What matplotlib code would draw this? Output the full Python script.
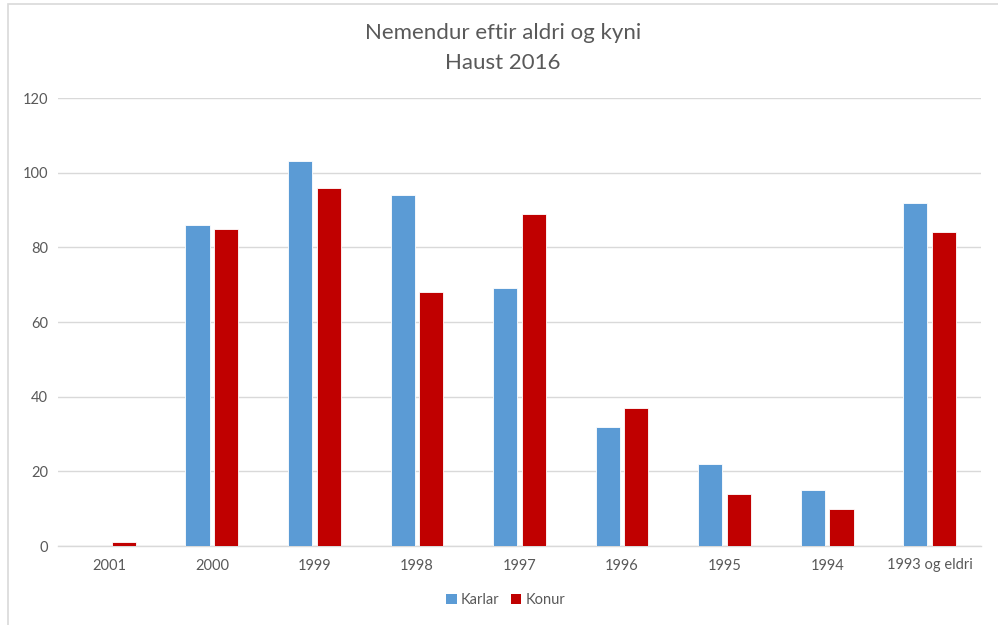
import matplotlib
matplotlib.use("Agg")
import matplotlib.pyplot as plt
from matplotlib.patches import Rectangle, Patch
import numpy as np

categories = ["2001", "2000", "1999", "1998", "1997", "1996", "1995", "1994", "1993 og eldri"]
karlar = [0, 86, 103, 94, 69, 32, 22, 15, 92]
konur = [1, 85, 96, 68, 89, 37, 14, 10, 84]
series_names = ["Karlar", "Konur"]
yticks = [0, 20, 40, 60, 80, 100, 120]

plt.rcParams['font.family'] = ['Lato', 'DejaVu Sans']
TXT = '#595959'
BLUE = '#5B9BD5'
RED = '#C00000'
GRID = '#D9D9D9'

fig = plt.figure(figsize=(9.98, 6.25), dpi=100)
fig.patch.set_facecolor('white')
W, H = 998, 625
ax = fig.add_axes([58 / W, 1 - 546 / H, (981 - 58) / W, (546 - 98) / H])

x = np.arange(len(categories))
bw = 0.235
off = 0.14
ax.bar(x - off, karlar, bw, color=BLUE, edgecolor='white', linewidth=0.6, zorder=3, label=series_names[0])
ax.bar(x + off, konur, bw, color=RED, edgecolor='white', linewidth=0.6, zorder=3, label=series_names[1])

ax.set_xlim(-0.5, len(categories) - 0.5)
ax.set_ylim(0, 120)
ax.set_yticks(yticks)
ax.set_yticklabels([str(v) for v in yticks])
ax.set_xticks(x)
ax.set_xticklabels(categories)
ax.tick_params(axis='both', length=0, colors=TXT, labelsize=10.5)
ax.tick_params(axis='y', pad=7)
ax.tick_params(axis='x', pad=9)
ax.grid(axis='y', color=GRID, linewidth=1.0, zorder=0)
for s in ['top', 'right', 'left']:
    ax.spines[s].set_visible(False)
ax.spines['bottom'].set_color(GRID)
ax.spines['bottom'].set_linewidth(1.0)

fig.text(503 / W, 1 - 33 / H, "Nemendur eftir aldri og kyni", ha='center', va='center',
         fontsize=16, color=TXT)
fig.text(503 / W, 1 - 63 / H, "Haust 2016", ha='center', va='center',
         fontsize=16, color=TXT)

handles = [Patch(facecolor=BLUE, label=series_names[0]), Patch(facecolor=RED, label=series_names[1])]
leg = fig.legend(handles=handles, loc='center', bbox_to_anchor=(506 / W, 1 - 600 / H), ncol=2,
                 frameon=False, fontsize=10.5, handlelength=0.7, handleheight=0.7,
                 handletextpad=0.3, columnspacing=0.8, labelcolor=TXT)

fig.patches.append(Rectangle((8 / W, -0.1), 1.2, 1 - 4 / H + 0.1, transform=fig.transFigure,
                             fill=False, edgecolor=GRID, linewidth=1.2))

fig.savefig("out.png", dpi=100, facecolor='white')
